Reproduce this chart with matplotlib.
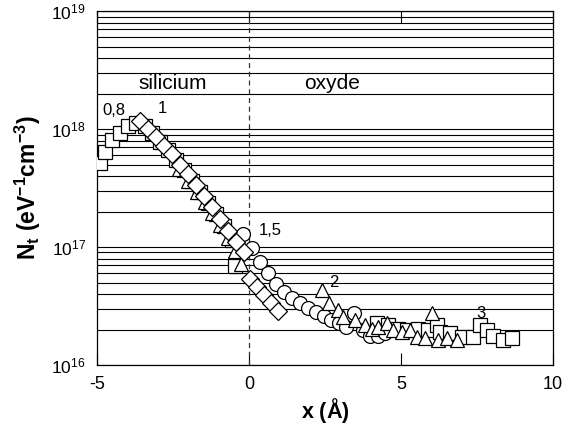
import numpy as np
import matplotlib
matplotlib.use('Agg')
import matplotlib.pyplot as plt
from matplotlib.ticker import FixedLocator, LogLocator, NullFormatter

plt.rcParams['font.family'] = ['Liberation Sans', 'DejaVu Sans']
plt.rcParams['axes.unicode_minus'] = False
plt.rcParams['mathtext.fontset'] = 'custom'
plt.rcParams['mathtext.rm'] = 'Liberation Sans'
plt.rcParams['mathtext.it'] = 'Liberation Sans'
plt.rcParams['mathtext.bf'] = 'Liberation Sans:bold'

# series "0,8" (squares, silicon side)
x_08 = [-4.90, -4.74, -4.51, -4.24, -3.98, -3.72, -3.42, -3.19, -2.93, -2.66,
        -2.40, -2.14, -1.88, -1.61, -1.35, -1.09, -0.82, -0.56, -0.46]
logn_08 = [17.71, 17.81, 17.91, 17.97, 18.03, 18.05, 18.03, 17.97, 17.89, 17.82,
           17.74, 17.65, 17.56, 17.47, 17.37, 17.28, 17.18, 17.06, 16.84]

# series "1" (diamonds)
x_1 = [-3.59, -3.32, -3.06, -2.80, -2.53, -2.27, -2.01, -1.74, -1.48, -1.22,
       -0.95, -0.69, -0.43, -0.16, 0.03, 0.26, 0.49, 0.72, 0.95]
logn_1 = [18.07, 18.00, 17.93, 17.86, 17.79, 17.70, 17.62, 17.53, 17.43, 17.34,
          17.24, 17.14, 17.04, 16.96, 16.73, 16.66, 16.59, 16.53, 16.46]

# series "1,5" (circles)
x_15 = [-0.20, 0.10, 0.36, 0.63, 0.89, 1.15, 1.41, 1.68, 1.94, 2.20,
        2.47, 2.70, 2.96, 3.19, 3.45, 3.75, 3.98, 4.24, 4.47]
logn_15 = [17.11, 16.99, 16.87, 16.78, 16.69, 16.62, 16.57, 16.53, 16.48, 16.45,
           16.42, 16.38, 16.36, 16.32, 16.44, 16.30, 16.25, 16.25, 16.27]

# series "2" (triangles)
x_2 = [-2.30, -2.00, -1.70, -1.45, -1.20, -0.95, -0.70, -0.45, -0.25,
       2.40, 2.63, 2.93, 3.09, 3.49, 3.82, 4.05, 4.24, 4.54, 4.74,
       5.03, 5.30, 5.53, 5.79, 6.02, 6.22, 6.51, 6.84]
logn_2 = [17.66, 17.56, 17.47, 17.38, 17.29, 17.19, 17.08, 16.97, 16.86,
          16.64, 16.53, 16.47, 16.41, 16.38, 16.34, 16.31, 16.32, 16.36, 16.30,
          16.28, 16.30, 16.24, 16.23, 16.44, 16.21, 16.23, 16.21]

# series "3" (squares, oxide side)
x_3 = [4.21, 4.57, 4.90, 5.20, 5.56, 5.89, 6.18, 6.28, 6.61, 7.01,
       7.37, 7.60, 7.83, 8.03, 8.36, 8.65]
logn_3 = [16.36, 16.34, 16.31, 16.30, 16.31, 16.30, 16.34, 16.28, 16.27, 16.24,
          16.24, 16.34, 16.30, 16.25, 16.21, 16.23]

fig = plt.figure(figsize=(5.64, 4.28), dpi=100)
ax = fig.add_axes([0.172, 0.147, 0.808, 0.827])

mk = dict(linestyle='none', markerfacecolor='white', markeredgecolor='black',
          markeredgewidth=0.9)
ax.plot(x_08, 10 ** np.array(logn_08), marker='s', markersize=10, zorder=3, **mk)
ax.plot(x_3, 10 ** np.array(logn_3), marker='s', markersize=10, zorder=3, **mk)
ax.plot(x_15, 10 ** np.array(logn_15), marker='o', markersize=10, zorder=4, **mk)
ax.plot(x_2, 10 ** np.array(logn_2), marker='^', markersize=10, zorder=5, **mk)
ax.plot(x_1, 10 ** np.array(logn_1), marker='D', markersize=9.5, zorder=6, **mk)

ax.set_yscale('log')
ax.set_xlim(-5, 10)
ax.set_ylim(1e16, 1e19)

ax.yaxis.set_major_locator(FixedLocator([1e16, 1e17, 1e18, 1e19]))
ax.yaxis.set_minor_locator(LogLocator(base=10, subs=np.arange(2, 10)))
ax.yaxis.set_minor_formatter(NullFormatter())
ax.set_yticklabels([r'$\mathregular{10^{16}}$', r'$\mathregular{10^{17}}$',
                    r'$\mathregular{10^{18}}$', r'$\mathregular{10^{19}}$'])
ax.yaxis.grid(True, which='both', color='black', linewidth=0.8)
ax.set_axisbelow(True)
ax.tick_params(axis='y', which='both', length=0, pad=8, labelsize=12.5)

ax.set_xticks([-5, 0, 5, 10])
ax.tick_params(axis='x', direction='in', top=True, length=8.5, width=0.8,
               labelsize=13, pad=8)

for s in ax.spines.values():
    s.set_linewidth(0.9)

ax.axvline(0, color='#333333', linewidth=0.9, linestyle=(0, (4, 3)), zorder=2)

ax.text(-2.5, 2.45e18, 'silicium', fontsize=15, ha='center', va='center')
ax.text(2.75, 2.45e18, 'oxyde', fontsize=15, ha='center', va='center')
ax.text(-4.45, 1.25e18, '0,8', fontsize=12, ha='center', va='bottom')
ax.text(-2.85, 1.3e18, '1', fontsize=12, ha='center', va='bottom')
ax.text(0.7, 1.38e17, '1,5', fontsize=12, ha='center', va='center')
ax.text(2.8, 5.0e16, '2', fontsize=12, ha='center', va='center')
ax.text(7.65, 2.75e16, '3', fontsize=12, ha='center', va='center')

ax.set_xlabel(r'$\mathbf{x\ (\AA)}$', fontsize=15.5, labelpad=2)
ax.set_ylabel(r'$\mathbf{N_t\ (eV^{-1}cm^{-3})}$', fontsize=16.5, labelpad=6)

fig.savefig('out.png', dpi=100)
